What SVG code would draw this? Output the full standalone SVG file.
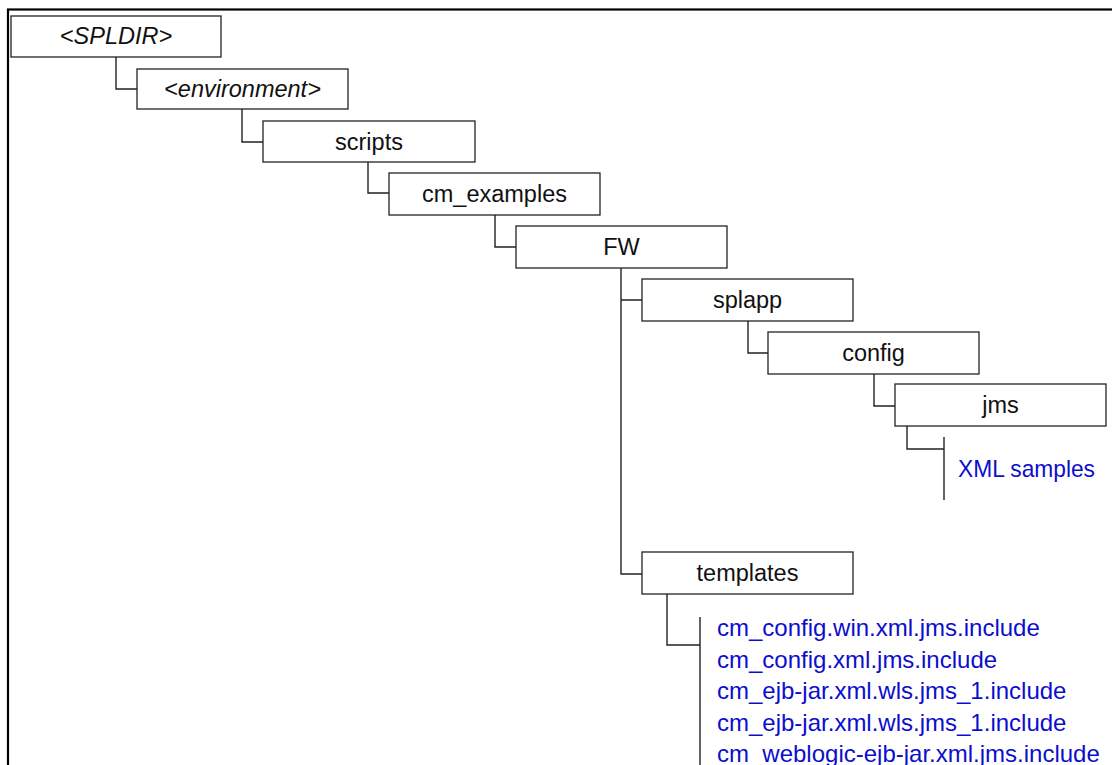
<svg xmlns="http://www.w3.org/2000/svg" width="1112" height="765" viewBox="0 0 1112 765">
<style>
.box{fill:#fff;stroke:#222;stroke-width:1.3}
.lbl{font-family:"Liberation Sans",Arial,sans-serif;font-size:23.5px;fill:#111;text-anchor:middle}
.it{font-style:italic}
.file{font-family:"Liberation Sans",Arial,sans-serif;font-size:24px;fill:#0d0dcc}
.conn{fill:none;stroke:#222;stroke-width:1.4}
</style>
<rect width="1112" height="765" fill="#fff"/>
<rect x="8" y="9.5" width="1200" height="900" fill="none" stroke="#000" stroke-width="2.2"/>
<g id="connectors" class="conn">
<path d="M116,57 V89 H137"/>
<path d="M242,109 V142 H263"/>
<path d="M368,162 V193 H389"/>
<path d="M495,215 V247 H516"/>
<path d="M621,268 V574 H642 M621,300 H642"/>
<path d="M748,321 V353 H768"/>
<path d="M874,374 V406 H895"/>
<path d="M907,426 V449 H944 M944,437 V500"/>
<path d="M667,594 V645 H700 M700,617 V770"/>
</g>
<g id="splDir"><rect class="box" x="11" y="16" width="210" height="41"/><text class="lbl it" x="116" y="44">&lt;SPLDIR&gt;</text></g>
<g id="environment"><rect class="box" x="137" y="69" width="211" height="40"/><text class="lbl it" x="242.5" y="97">&lt;environment&gt;</text></g>
<g id="scripts"><rect class="box" x="263" y="121" width="212" height="41"/><text class="lbl" x="369" y="150">scripts</text></g>
<g id="cmExamples"><rect class="box" x="389" y="173" width="211" height="42"/><text class="lbl" x="494.5" y="202">cm_examples</text></g>
<g id="fw"><rect class="box" x="516" y="226" width="211" height="42"/><text class="lbl" x="621.5" y="255">FW</text></g>
<g id="splapp"><rect class="box" x="642" y="279" width="211" height="42"/><text class="lbl" x="747.5" y="308">splapp</text></g>
<g id="config"><rect class="box" x="768" y="332" width="211" height="42"/><text class="lbl" x="873.5" y="361">config</text></g>
<g id="jms"><rect class="box" x="895" y="384" width="211" height="42"/><text class="lbl" x="1000.5" y="413">jms</text></g>
<g id="xmlSamples"><text class="file" x="958" y="477" textLength="137" lengthAdjust="spacingAndGlyphs">XML samples</text></g>
<g id="templates"><rect class="box" x="642" y="552" width="211" height="42"/><text class="lbl" x="747.5" y="581">templates</text></g>
<g id="templateFiles">
<text class="file" x="717" y="636">cm_config.win.xml.jms.include</text>
<text class="file" x="717" y="667.5">cm_config.xml.jms.include</text>
<text class="file" x="717" y="699">cm_ejb-jar.xml.wls.jms_1.include</text>
<text class="file" x="717" y="730.5">cm_ejb-jar.xml.wls.jms_1.include</text>
<text class="file" x="717" y="762">cm_weblogic-ejb-jar.xml.jms.include</text>
</g>
</svg>
